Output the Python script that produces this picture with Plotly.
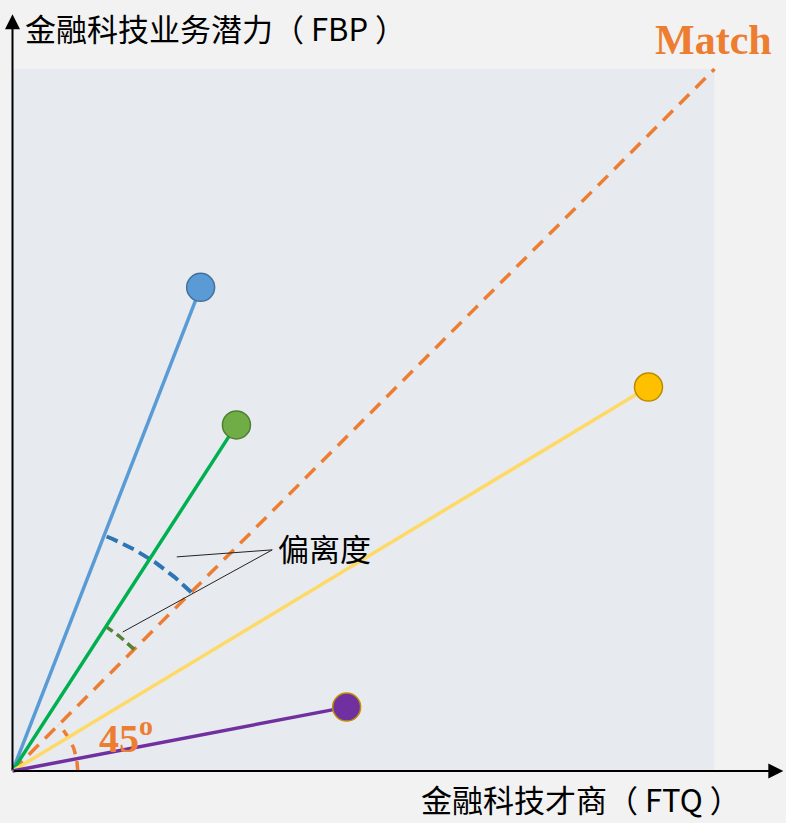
import numpy as np
import plotly.graph_objects as go

# ---- data (units: the shaded square spans 0..10 on both axes) ----
names = ["blue", "green", "yellow", "purple"]
ftq = [2.68, 3.19, 9.06, 4.76]      # 金融科技才商 (x)
fbp = [6.89, 4.93, 5.47, 0.91]      # 金融科技业务潜力 (y)
line_colors = ["#5b9bd5", "#00b050", "#ffd966", "#7030a0"]
marker_colors = ["#5b9bd5", "#70ad47", "#ffc000", "#7030a0"]
marker_edges = ["#41719c", "#507e32", "#bc8c00", "#bf9000"]
match_x = [0, 10]
match_y = [0, 10]
x_title = "金融科技才商（ FTQ ）"
y_title = "金融科技业务潜力（ FBP ）"
match_label = "Match"
angle_label = "45<sup>o</sup>"
dev_label = "偏离度"

PX = 70.2           # pixels per unit
OX, OY = 12.5, 771  # origin pixel
W, H = 786, 823

fig = go.Figure()

# shaded square
fig.add_shape(type="rect", x0=0, y0=0, x1=10, y1=10, fillcolor="#e7ebef",
              line=dict(width=0), layer="below")

# match line
fig.add_trace(go.Scatter(x=match_x, y=match_y, mode="lines",
                         line=dict(color="#ed7d31", width=3.5, dash="14px,9px"),
                         hoverinfo="skip"))

# arcs
def arc(r, a0, a1, color, width, dash):
    t = np.radians(np.linspace(a0, a1, 80))
    fig.add_trace(go.Scatter(x=r * np.cos(t), y=r * np.sin(t), mode="lines",
                             line=dict(color=color, width=width, dash=dash),
                             hoverinfo="skip"))

ang = lambda i: np.degrees(np.arctan2(fbp[i], ftq[i]))
arc(3.6, 45, ang(0), "#2e75b6", 4, "12px,6px")
arc(2.45, 45, ang(1), "#538135", 3.5, "9px,5px")
arc(0.93, 0, 45, "#ed7d31", 3.5, "10px,7px")

# lines from origin
for i in range(len(names)):
    fig.add_trace(go.Scatter(x=[0, ftq[i]], y=[0, fbp[i]], mode="lines",
                             line=dict(color=line_colors[i], width=3.5),
                             hoverinfo="skip"))
# markers
for i in range(len(names)):
    fig.add_trace(go.Scatter(x=[ftq[i]], y=[fbp[i]], mode="markers",
                             marker=dict(size=28, color=marker_colors[i],
                                         line=dict(color=marker_edges[i], width=1.5)),
                             hoverinfo="skip"))

# leader lines
lab_x, lab_y = (276 - OX) / PX, 3.18
for (ex, ey) in [(2.34, 3.05), (1.57, 1.98)]:
    fig.add_shape(type="line", x0=3.70, y0=3.15, x1=ex, y1=ey,
                  line=dict(color="#222222", width=1))

# axes with arrows
for (x, y) in [(10.98, 0), (0, 10.78)]:
    fig.add_annotation(x=x, y=y, ax=0, ay=0, xref="x", yref="y", axref="x", ayref="y",
                       text="", showarrow=True, arrowhead=2, arrowsize=1.5,
                       arrowwidth=2, arrowcolor="black")

cjk = "Noto Sans CJK SC"
fig.add_annotation(x=lab_x, y=lab_y, text=dev_label, showarrow=False, xanchor="left",
                   yanchor="middle", font=dict(family=cjk, size=31, color="black"))
fig.add_annotation(x=(23 - OX) / PX, y=(OY - 27) / PX, text=y_title, showarrow=False,
                   xanchor="left", yanchor="middle", font=dict(family=cjk, size=31, color="black"))
fig.add_annotation(x=(419 - OX) / PX, y=0, yref="paper", text=x_title, showarrow=False,
                   xanchor="left", yanchor="bottom", font=dict(family=cjk, size=31, color="black"))
fig.add_annotation(x=(653 - OX) / PX, y=(OY - 40) / PX, text="<b>" + match_label + "</b>",
                   showarrow=False, xanchor="left", yanchor="middle",
                   font=dict(family="Liberation Serif", size=42, color="#ed7d31"))
fig.add_annotation(x=(97 - OX) / PX, y=(OY - 735) / PX, text="<b>" + angle_label + "</b>",
                   showarrow=False, xanchor="left", yanchor="middle",
                   font=dict(family="Liberation Serif", size=40, color="#ed7d31"))

fig.update_xaxes(range=[-OX / PX, (W - OX) / PX], visible=False, fixedrange=True)
fig.update_yaxes(range=[-(H - OY) / PX, OY / PX], visible=False, fixedrange=True)
fig.update_layout(width=W, height=H, margin=dict(l=0, r=0, t=0, b=0),
                  paper_bgcolor="#f2f2f2", plot_bgcolor="#f2f2f2", showlegend=False)

fig.write_html("out.html", config={"displayModeBar": False},
               post_script="document.body.style.margin='0';document.body.style.overflow='hidden';")
